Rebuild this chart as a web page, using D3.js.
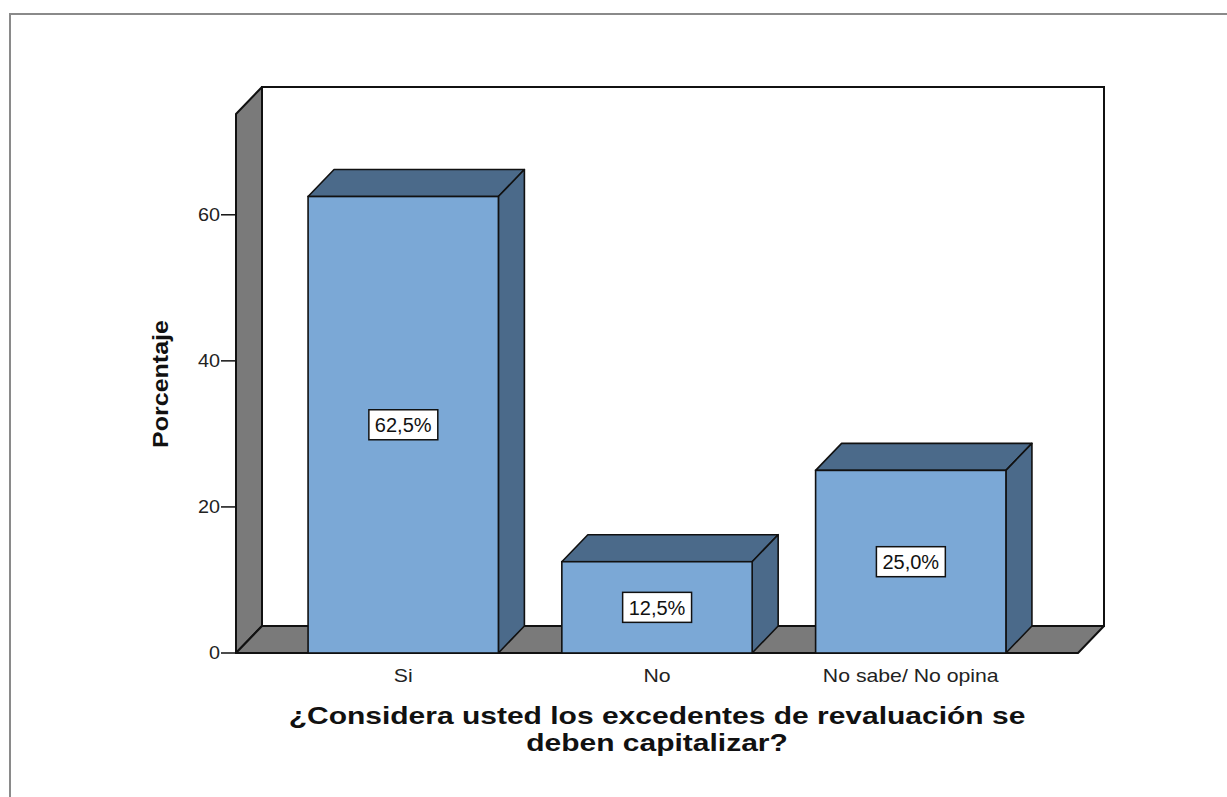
<!DOCTYPE html>
<html>
<head>
<meta charset="utf-8">
<script src="https://cdn.jsdelivr.net/npm/d3@7"></script>
<style>
  html, body { margin: 0; padding: 0; background: #fff; }
  svg text { font-family: "Liberation Sans", Arial, sans-serif; }
</style>
</head>
<body>
<svg id="chart" width="1227" height="797"></svg>
<script>
// Survey answers and their share of respondents (%)
const categories = ["Si", "No", "No sabe/ No opina"];
const percentages = [62.5, 12.5, 25.0];
const valueLabels = ["62,5%", "12,5%", "25,0%"];
const yTicks = [0, 20, 40, 60];
const xTitleLines = ["¿Considera usted los excedentes de revaluación se", "deben capitalizar?"];
const yTitle = "Porcentaje";

const svg = d3.select("#chart");

// Outer frame
svg.append("path")
  .attr("d", "M10,797 L10,14 L1227,14")
  .attr("fill", "none").attr("stroke", "#8a8a8a").attr("stroke-width", 2);

// Front plane of the 3D box
const boxLeft = 236, boxRight = 1078, boxBottom = 653, boxTop = 114;
const dx = 26, dy = 27; // depth offset

const x = d3.scaleBand().domain(categories).range([boxLeft, boxRight])
  .paddingInner(0.25).paddingOuter(0.284);
const y = d3.scaleLinear().domain([0, 73.8]).range([boxBottom, boxTop]);

const g = svg.append("g");

// Back wall
g.append("rect")
  .attr("x", boxLeft + dx).attr("y", boxTop - dy)
  .attr("width", boxRight - boxLeft).attr("height", boxBottom - boxTop)
  .attr("fill", "#fff").attr("stroke", "#111").attr("stroke-width", 2);

// Left wall
g.append("polygon")
  .attr("points", [[boxLeft, boxTop], [boxLeft + dx, boxTop - dy], [boxLeft + dx, boxBottom - dy], [boxLeft, boxBottom]].join(" "))
  .attr("fill", "#7a7a7a").attr("stroke", "#111").attr("stroke-width", 2).attr("stroke-linejoin", "round");

// Floor
g.append("polygon")
  .attr("points", [[boxLeft, boxBottom], [boxLeft + dx, boxBottom - dy], [boxRight + dx, boxBottom - dy], [boxRight, boxBottom]].join(" "))
  .attr("fill", "#7a7a7a").attr("stroke", "#111").attr("stroke-width", 2).attr("stroke-linejoin", "round");

// Y axis ticks and labels (on the front plane)
const yAxis = g.append("g");
yTicks.forEach(t => {
  yAxis.append("line")
    .attr("x1", boxLeft - 15).attr("x2", boxLeft)
    .attr("y1", y(t)).attr("y2", y(t))
    .attr("stroke", "#111").attr("stroke-width", 1.5);
  yAxis.append("text")
    .attr("transform", `translate(${boxLeft - 16},${y(t)}) scale(1.1,1)`)
    .attr("dy", "0.36em").attr("text-anchor", "end")
    .attr("font-size", 18).attr("fill", "#222")
    .text(t);
});

// 3D bars
const frontColor = "#7ba8d6";
const depthColor = "#4b6a8a";
const bars = g.append("g");
categories.forEach((c, i) => {
  const x0 = x(c), x1 = x(c) + x.bandwidth();
  const yt = y(percentages[i]), yb = y(0);
  // top face
  bars.append("polygon")
    .attr("points", [[x0, yt], [x0 + dx, yt - dy], [x1 + dx, yt - dy], [x1, yt]].join(" "))
    .attr("fill", depthColor).attr("stroke", "#111").attr("stroke-width", 1.6).attr("stroke-linejoin", "round");
  // side face
  bars.append("polygon")
    .attr("points", [[x1, yt], [x1 + dx, yt - dy], [x1 + dx, yb - dy], [x1, yb]].join(" "))
    .attr("fill", depthColor).attr("stroke", "#111").attr("stroke-width", 1.6).attr("stroke-linejoin", "round");
  // front face
  bars.append("rect")
    .attr("x", x0).attr("y", yt).attr("width", x1 - x0).attr("height", yb - yt)
    .attr("fill", frontColor).attr("stroke", "#111").attr("stroke-width", 1.6);
});

// Value labels in boxes
categories.forEach((c, i) => {
  const cx = x(c) + x.bandwidth() / 2;
  const cy = (y(percentages[i]) + y(0)) / 2;
  const lg = g.append("g");
  const txt = lg.append("text")
    .attr("x", cx).attr("y", cy).attr("dy", "0.36em")
    .attr("text-anchor", "middle").attr("font-size", 20).attr("fill", "#111")
    .text(valueLabels[i]);
  const bb = txt.node().getBBox();
  lg.insert("rect", "text")
    .attr("x", bb.x - 6).attr("y", cy - 15)
    .attr("width", bb.width + 12).attr("height", 30)
    .attr("fill", "#fff").attr("stroke", "#111").attr("stroke-width", 1.5);
});

// Category labels
categories.forEach(c => {
  g.append("text")
    .attr("transform", `translate(${x(c) + x.bandwidth() / 2},682) scale(1.18,1)`)
    .attr("text-anchor", "middle").attr("font-size", 18).attr("fill", "#222")
    .text(c);
});

// Axis titles
xTitleLines.forEach((line, i) => {
  g.append("text")
    .attr("transform", `translate(657,${724 + i * 27}) scale(1.25,1)`)
    .attr("text-anchor", "middle").attr("font-size", 24).attr("font-weight", "bold").attr("fill", "#111")
    .text(line);
});

g.append("text")
  .attr("transform", "translate(168,384) rotate(-90)")
  .attr("text-anchor", "middle").attr("font-size", 22).attr("font-weight", "bold").attr("fill", "#111")
  .attr("textLength", 128).attr("lengthAdjust", "spacingAndGlyphs")
  .text(yTitle);
</script>
</body>
</html>
